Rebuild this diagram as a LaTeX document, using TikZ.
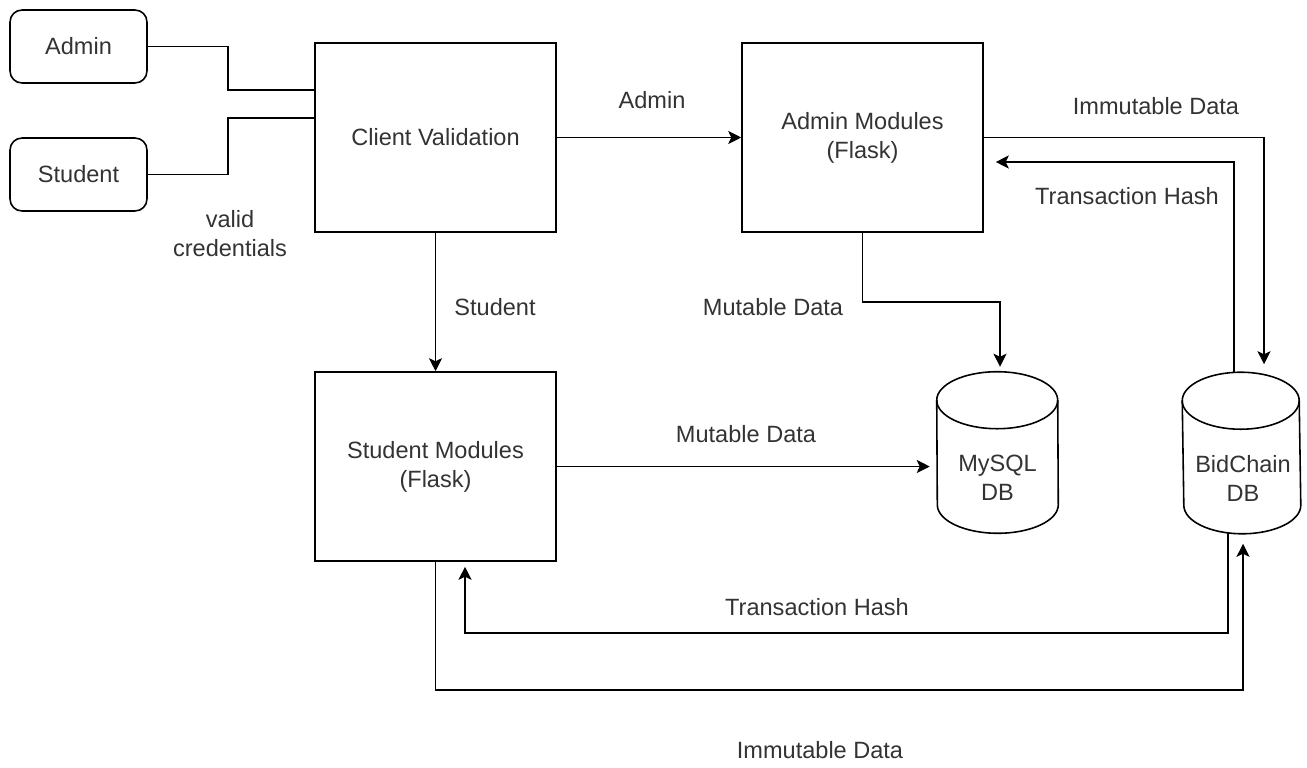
\documentclass[tikz,border=0pt]{standalone}
\usepackage{fontspec}
\setmainfont{Liberation Sans}
\usepackage{tikz}
\usetikzlibrary{arrows.meta,calc,positioning}

\begin{document}
\begin{tikzpicture}[x=0.02cm,y=-0.02cm,line width=0.9pt,
  every node/.style={text=black!80,font=\fontsize{13.4}{16.5}\selectfont,align=center},
  usr/.style={draw,rounded corners=0.24cm,minimum width=2.74cm,minimum height=1.46cm},
  blk/.style={draw,minimum width=4.82cm,minimum height=3.78cm},
  db/.style={minimum width=2.4cm,minimum height=3.2cm},
  arr/.style={-{Stealth[length=0.26cm,width=0.26cm,inset=0.06cm]}}]
\useasboundingbox (0,0) rectangle (1307,767);
\node[usr] (admin) at (78.5,46.5) {Admin};
\node[usr] (student) at (78.5,174.5) {Student};
\node[blk] (client) at (435.5,137.5) {Client Validation};
\node[blk] (adminmod) at (862.5,137.5) {Admin Modules\\(Flask)};
\node[blk] (studmod) at (435.5,466.5) {Student Modules\\(Flask)};
\node[db] (mysql) at (997.5,452.5) {};
\node[db,minimum width=2.34cm] (bid) at (1241.5,453) {};
\node (mysqltxt) at (997.5,478) {MySQL\\DB};
\node (bidtxt) at (1243,478) {BidChain\\DB};
% cylinders
\draw ([yshift=-0.57cm]mysql.north west) arc[start angle=180,end angle=0,x radius=1.21cm,y radius=0.57cm]
  -- ([yshift=0.57cm]mysql.south east) arc[start angle=0,end angle=-180,x radius=1.21cm,y radius=0.57cm] -- cycle;
\draw ([yshift=-0.57cm]mysql.north west) arc[start angle=180,end angle=360,x radius=1.21cm,y radius=0.57cm];
\draw ([yshift=-0.57cm]bid.north west) arc[start angle=180,end angle=0,x radius=1.17cm,y radius=0.57cm]
  -- ([yshift=0.57cm]bid.south east) arc[start angle=0,end angle=-180,x radius=1.17cm,y radius=0.57cm] -- cycle;
\draw ([yshift=-0.57cm]bid.north west) arc[start angle=180,end angle=360,x radius=1.17cm,y radius=0.57cm];
% login
\coordinate (jA) at (228,90);
\coordinate (jS) at (228,118);
\draw (admin.east) -| (jA) -- (jA -| client.west);
\draw (student.east) -| (jS) -- (jS -| client.west);
\node (valid) at (230,234) {valid\\credentials};
% routing
\draw[arr] (client.east) -- (adminmod.west);
\node (ladmin) at (652,100) {Admin};
\draw[arr] (client.south) -- (studmod.north);
\node (lstudent) at (495,307) {Student};
% admin side
\coordinate (m1) at (1000,302);
\draw[arr] (adminmod.south) |- (m1) -- ([yshift=0.1cm]m1 |- mysql.north);
\node (lmut1) at (773,307) {Mutable Data};
\coordinate (b1) at (1264,138);
\draw[arr] (adminmod.east) -| ([yshift=0.16cm]b1 |- bid.north);
\node (limm1) at (1156,106) {Immutable Data};
\coordinate (t1) at (1234,162);
\draw[arr] (t1 |- bid.north) -- (t1) -- ([xshift=0.24cm]adminmod.east |- t1);
\node (lhash1) at (1127,196) {Transaction Hash};
% student side
\draw[arr] (studmod.east) -- ([xshift=-0.14cm]studmod.east -| mysql.west);
\node (lmut2) at (746,434) {Mutable Data};
\coordinate (s2) at (1228,633);
\coordinate (s3) at (465,633);
\draw[arr] ([yshift=0.02cm]s2 |- bid.south) -- (s2) -- (s3) -- ([yshift=-0.1cm]s3 |- studmod.south);
\node (lhash2) at (817,607) {Transaction Hash};
\coordinate (s1) at (1243,690);
\draw[arr] (studmod.south) |- (s1) -- ([yshift=-0.2cm]s1 |- bid.south);
\node (limm2) at (820,750) {Immutable Data};
\end{tikzpicture}
\end{document}
